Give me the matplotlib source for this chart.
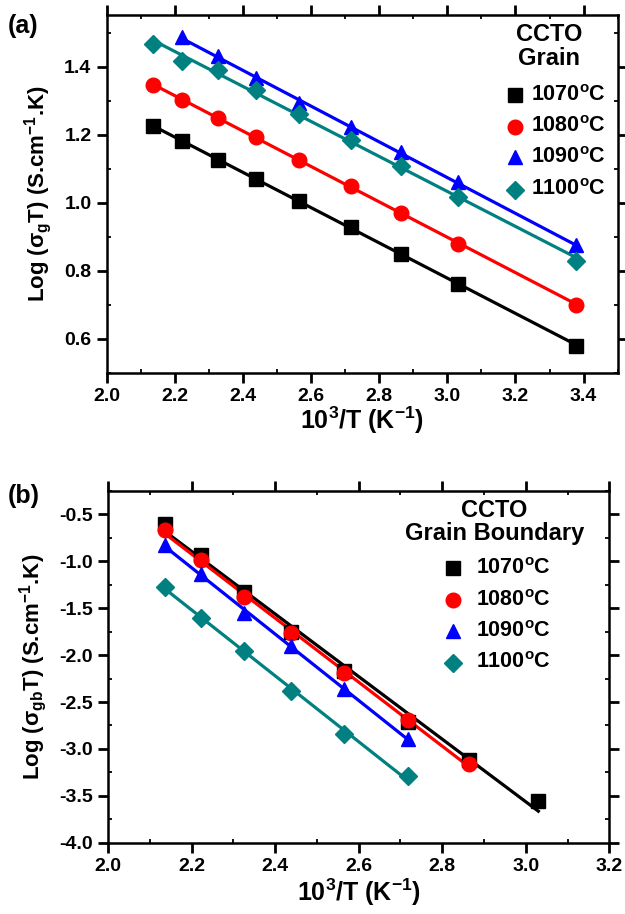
import numpy as np
import matplotlib
matplotlib.use('Agg')
import matplotlib.pyplot as plt
from matplotlib.ticker import MultipleLocator, FormatStrFormatter

plt.rcParams['font.family'] = ['Liberation Sans', 'DejaVu Sans']
plt.rcParams['font.weight'] = 'bold'
plt.rcParams['mathtext.fontset'] = 'custom'
plt.rcParams['mathtext.rm'] = 'Liberation Sans:bold'
plt.rcParams['mathtext.default'] = 'rm'
plt.rcParams['axes.unicode_minus'] = False

# ── Data ──────────────────────────────────────────────────────────────────────
labels = ['1070$^{o}$C', '1080$^{o}$C', '1090$^{o}$C', '1100$^{o}$C']
colors = ['#000000', '#FF0000', '#0000FF', '#008080']
markers = ['s', 'o', '^', 'D']

# (a) grain
x_g = [2.137, 2.222, 2.326, 2.439, 2.564, 2.717, 2.865, 3.030, 3.378]
x_g_1090 = [2.222, 2.326, 2.439, 2.564, 2.717, 2.865, 3.030, 3.378]
g_1070 = [1.225, 1.180, 1.125, 1.070, 1.005, 0.930, 0.848, 0.762, 0.580]
g_1080 = [1.345, 1.302, 1.248, 1.192, 1.127, 1.050, 0.970, 0.880, 0.700]
g_1090 = [1.487, 1.430, 1.368, 1.292, 1.222, 1.148, 1.060, 0.875]
g_1100 = [1.468, 1.418, 1.390, 1.332, 1.262, 1.183, 1.108, 1.016, 0.830]

# (b) grain boundary
x_gb_1070 = [2.137, 2.222, 2.326, 2.439, 2.564, 2.717, 2.865, 3.030]
x_gb_1080 = [2.137, 2.222, 2.326, 2.439, 2.564, 2.717, 2.865]
x_gb_1090 = [2.137, 2.222, 2.326, 2.439, 2.564, 2.717]
x_gb_1100 = [2.137, 2.222, 2.326, 2.439, 2.564, 2.717]
gb_1070 = [-0.60, -0.93, -1.33, -1.75, -2.17, -2.71, -3.12, -3.55]
gb_1080 = [-0.67, -0.99, -1.38, -1.76, -2.19, -2.69, -3.16]
gb_1090 = [-0.83, -1.14, -1.55, -1.90, -2.36, -2.89]
gb_1100 = [-1.27, -1.60, -1.96, -2.38, -2.84, -3.29]


def marker_size(m):
    return 9 if m == 'D' else 10.5


def style_axes(ax):
    for sp in ax.spines.values():
        sp.set_linewidth(1.8)
    ax.tick_params(which='major', direction='out', length=7, width=2,
                   labelsize=14, pad=4)
    ax.tick_params(which='minor', direction='in', length=3, width=1.3)
    ax.tick_params(which='both', top=True, right=True)
    ax.tick_params(axis='both', which='both', labeltop=False, labelright=False)


def draw_series(ax, xs, ys, color, marker):
    # straight-line (Arrhenius) fit through the points
    k, b = np.polyfit(xs, ys, 1)
    xf = np.array([xs[0], xs[-1]])
    ax.plot(xf, k * xf + b, '-', color=color, lw=2.3, zorder=2)
    ax.plot(xs, ys, marker, color=color, ms=marker_size(marker),
            ls='none', zorder=3)


def draw_key(ax, title, tx, ty, mx, txx, rows):
    ax.text(tx, ty, title, transform=ax.transAxes, ha='center', va='center',
            fontsize=17, fontweight='bold', linespacing=1.05)
    for lab, c, m, ry in zip(labels, colors, markers, rows):
        ax.plot([mx], [ry], m, color=c, ms=marker_size(m),
                transform=ax.transAxes, clip_on=False)
        ax.text(txx, ry, lab, transform=ax.transAxes, ha='left', va='center',
                fontsize=15.5, fontweight='bold')


fig = plt.figure(figsize=(6.25, 9.14), dpi=100)
ax1 = fig.add_axes([0.1707, 0.5922, 0.8176, 0.3914])
ax2 = fig.add_axes([0.1728, 0.0780, 0.8022, 0.3848])

xlab = '10$^{3}$/T (K$^{-1}$)'

# ── (a) ───────────────────────────────────────────────────────────────────────
draw_series(ax1, x_g, g_1070, colors[0], markers[0])
draw_series(ax1, x_g, g_1080, colors[1], markers[1])
draw_series(ax1, x_g_1090, g_1090, colors[2], markers[2])
draw_series(ax1, x_g, g_1100, colors[3], markers[3])
ax1.set_xlim(2.0, 3.5)
ax1.set_ylim(0.5, 1.552)
ax1.xaxis.set_major_locator(MultipleLocator(0.2))
ax1.xaxis.set_minor_locator(MultipleLocator(0.1))
ax1.yaxis.set_major_locator(MultipleLocator(0.2))
ax1.yaxis.set_minor_locator(MultipleLocator(0.1))
ax1.yaxis.set_major_formatter(FormatStrFormatter('%.1f'))
ax1.set_xlabel(xlab, fontsize=18, fontweight='bold', labelpad=0)
ax1.set_ylabel('Log ($\\mathregular{\\sigma_{g}}$T) (S.cm$^{-1}$.K)',
               fontsize=16, fontweight='bold', labelpad=7)
style_axes(ax1)
draw_key(ax1, 'CCTO\nGrain', 0.866, 0.913, 0.800, 0.830,
         [0.776, 0.687, 0.602, 0.512])
fig.text(0.012, 0.972, '(a)', fontsize=18, fontweight='bold', va='center')

# ── (b) ───────────────────────────────────────────────────────────────────────
draw_series(ax2, x_gb_1070, gb_1070, colors[0], markers[0])
draw_series(ax2, x_gb_1080, gb_1080, colors[1], markers[1])
draw_series(ax2, x_gb_1090, gb_1090, colors[2], markers[2])
draw_series(ax2, x_gb_1100, gb_1100, colors[3], markers[3])
ax2.set_xlim(2.0, 3.2)
ax2.set_ylim(-4.0, -0.25)
ax2.xaxis.set_major_locator(MultipleLocator(0.2))
ax2.xaxis.set_minor_locator(MultipleLocator(0.1))
ax2.yaxis.set_major_locator(MultipleLocator(0.5))
ax2.yaxis.set_minor_locator(MultipleLocator(0.25))
ax2.set_xlabel(xlab, fontsize=18, fontweight='bold', labelpad=1)
ax2.set_ylabel('Log ($\\mathregular{\\sigma_{gb}}$T) (S.cm$^{-1}$.K)',
               fontsize=16, fontweight='bold', labelpad=7)
style_axes(ax2)
draw_key(ax2, 'CCTO\nGrain Boundary', 0.771, 0.912, 0.688, 0.734,
         [0.781, 0.690, 0.601, 0.512])
fig.text(0.012, 0.457, '(b)', fontsize=18, fontweight='bold', va='center')

fig.savefig('out.png', dpi=100)
